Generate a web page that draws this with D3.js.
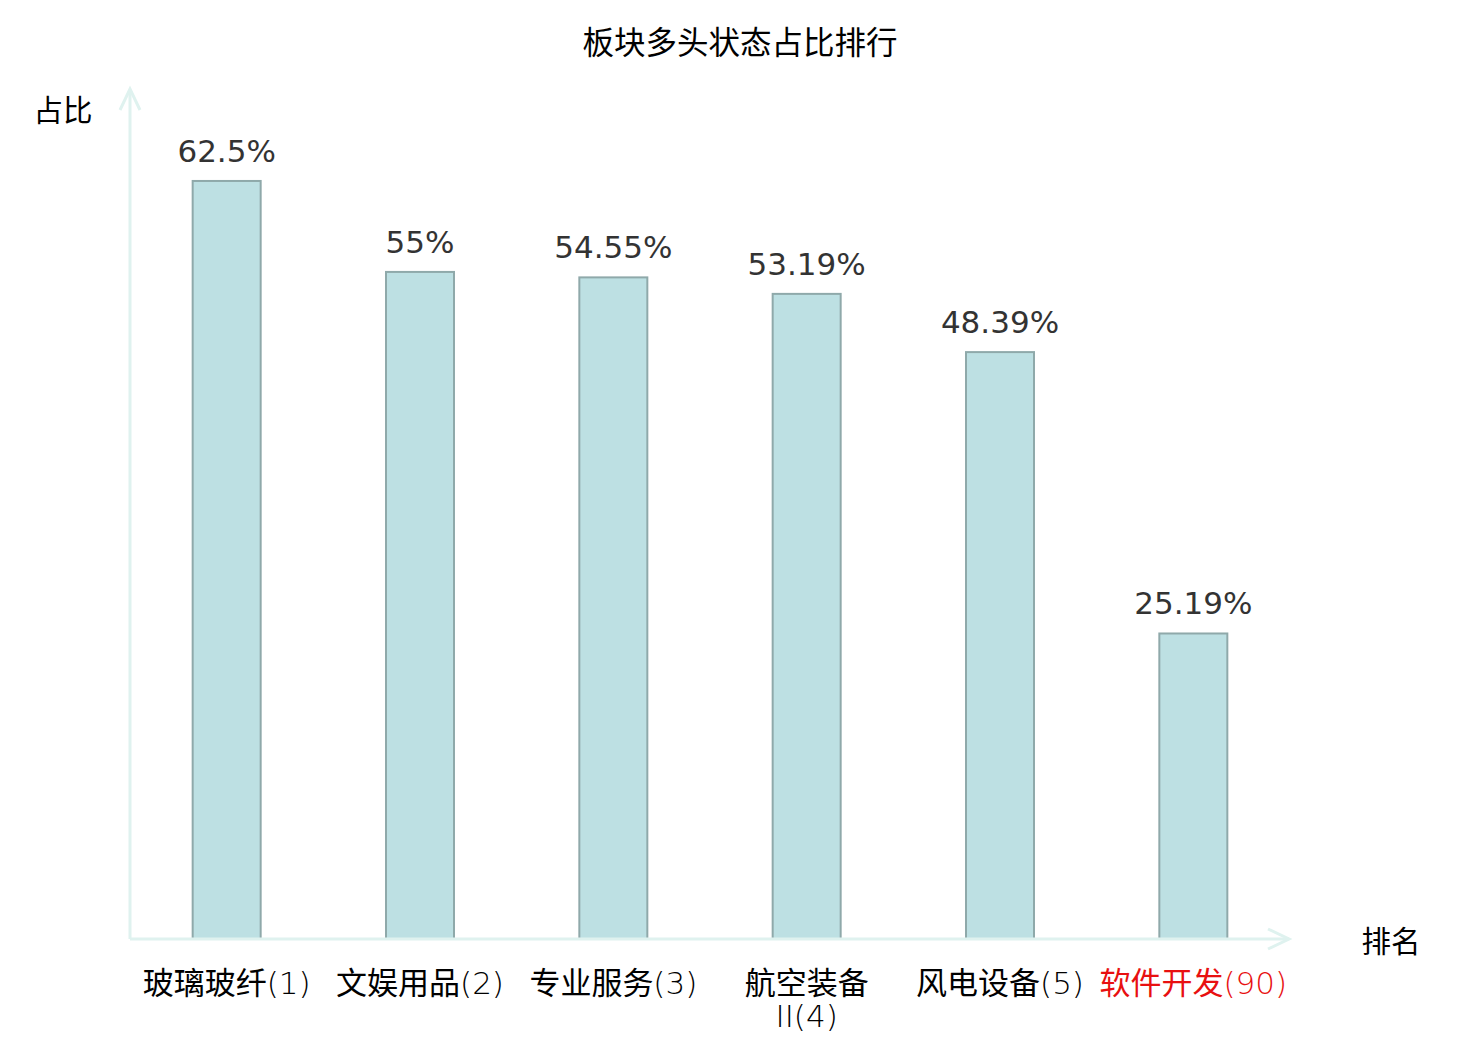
<!DOCTYPE html>
<html>
<head>
<meta charset="utf-8">
<script src="https://cdn.jsdelivr.net/npm/d3@7"></script>
<style>
  body { margin: 0; background: #fff; }
  svg { display: block; }
</style>
</head>
<body>
<div id="chart"></div>
<script>
var categories = ["玻璃玻纤(1)", "文娱用品(2)", "专业服务(3)", "航空装备II(4)", "风电设备(5)", "软件开发(90)"];
var values = [62.5, 55, 54.55, 53.19, 48.39, 25.19];
var valueLabels = ["62.5%", "55%", "54.55%", "53.19%", "48.39%", "25.19%"];
var highlighted = ["软件开发(90)"];

var svgWidth = 1480;
var svgHeight = 1040;
var cjk = "'Noto Sans CJK SC', 'Noto Sans', sans-serif";
var latin = "'DejaVu Sans', sans-serif";

var svg = d3.select("#chart")
  .append("svg")
  .attr("width", svgWidth)
  .attr("height", svgHeight);

var x = d3.scaleBand()
  .domain(categories)
  .range([130, 1290])
  .paddingInner(0)
  .paddingOuter(0);

var y = d3.scaleLinear()
  .domain([0, 70])
  .range([939, 90]);

var barW = 68;
var axisColor = "#dff2ef";

// title
svg.append("text")
  .attr("x", 740)
  .attr("y", 54)
  .attr("text-anchor", "middle")
  .style("font-family", cjk)
  .style("font-size", "31.5px")
  .attr("fill", "#000")
  .text("板块多头状态占比排行");

// bars
svg.append("g").selectAll("rect")
  .data(values)
  .enter()
  .append("rect")
  .attr("x", (d, i) => x(categories[i]) + x.bandwidth() / 2 - barW / 2)
  .attr("y", d => y(d))
  .attr("width", barW)
  .attr("height", d => y(0) - y(d))
  .attr("fill", "#bde0e3")
  .attr("stroke", "#8fa9aa")
  .attr("stroke-width", 2);

// value labels
svg.append("g").selectAll("text")
  .data(values)
  .enter()
  .append("text")
  .attr("x", (d, i) => x(categories[i]) + x.bandwidth() / 2)
  .attr("y", d => y(d) - 19)
  .attr("text-anchor", "middle")
  .style("font-family", latin)
  .style("font-size", "31px")
  .attr("fill", "#333")
  .text((d, i) => valueLabels[i]);

// axes
var axes = svg.append("g")
  .attr("stroke", axisColor)
  .attr("stroke-width", 3)
  .attr("fill", "none");

axes.append("line")
  .attr("x1", 130).attr("y1", y(0))
  .attr("x2", 1289).attr("y2", y(0));
axes.append("path")
  .attr("d", `M1268,${y(0) - 10} L1289,${y(0)} L1268,${y(0) + 10}`);

axes.append("line")
  .attr("x1", 130).attr("y1", y(0))
  .attr("x2", 130).attr("y2", 89);
axes.append("path")
  .attr("d", "M120,110 L130,89 L140,110");

// x tick labels
var xAxis = d3.axisBottom(x).tickSize(0).tickPadding(0);
var xg = svg.append("g")
  .attr("transform", `translate(0, ${y(0)})`)
  .call(xAxis);
xg.select(".domain").remove();
xg.selectAll(".tick text").remove();

// split a label into runs of CJK / latin characters
function runs(s) {
  var out = [];
  for (var ch of s) {
    var isCjk = /[\u3400-\u9fff]/.test(ch);
    if (out.length && out[out.length - 1].cjk === isCjk) out[out.length - 1].t += ch;
    else out.push({ t: ch, cjk: isCjk });
  }
  return out;
}

function addLine(textSel, s, first) {
  runs(s).forEach(function(r, k) {
    var ts = textSel.append("tspan")
      .style("font-family", r.cjk ? cjk : latin)
      .style("font-weight", r.cjk ? 400 : 200)
      .text(r.t);
    if (k === 0) {
      ts.attr("x", 0);
      if (!first) ts.attr("dy", 33);
    }
  });
}

xg.selectAll(".tick").each(function(d) {
  var t = d3.select(this).append("text")
    .attr("text-anchor", "middle")
    .attr("y", 55)
    .style("font-size", "31px")
    .attr("fill", highlighted.indexOf(d) >= 0 ? "#e81010" : "#000");
  if (d === "航空装备II(4)") {
    addLine(t, "航空装备", true);
    addLine(t, "II(4)", false);
  } else {
    addLine(t, d, true);
  }
});

// axis names
svg.append("text")
  .attr("x", 63)
  .attr("y", 121)
  .attr("text-anchor", "middle")
  .style("font-family", cjk)
  .style("font-size", "29.5px")
  .attr("fill", "#000")
  .text("占比");

svg.append("text")
  .attr("x", 1391)
  .attr("y", 952)
  .attr("text-anchor", "middle")
  .style("font-family", cjk)
  .style("font-size", "29.5px")
  .attr("fill", "#000")
  .text("排名");
</script>
</body>
</html>
